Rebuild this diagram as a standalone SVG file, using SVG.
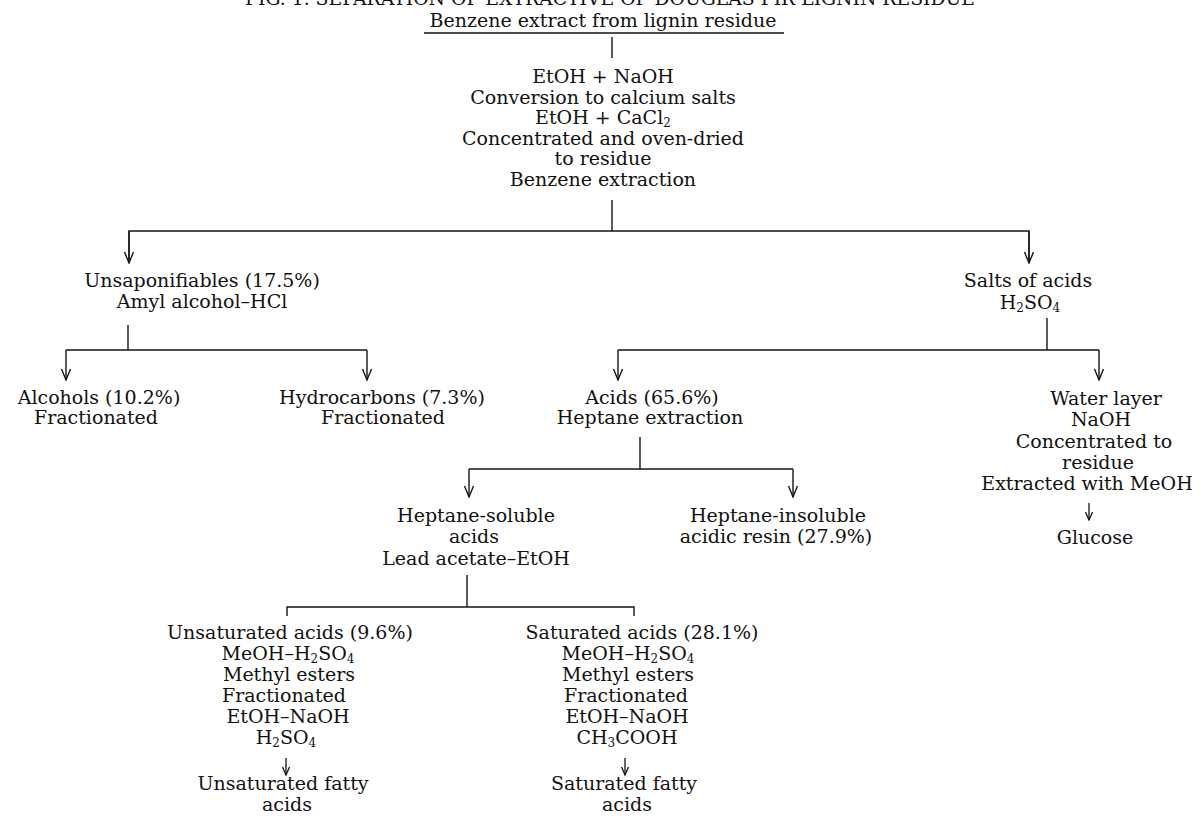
<svg xmlns="http://www.w3.org/2000/svg" width="1199" height="818" viewBox="0 0 1199 818">
<defs>
<style>
text{font-family:"DejaVu Serif","Liberation Serif",serif;font-size:19px;fill:#111;text-anchor:middle}
.ln{stroke:#151515;stroke-width:1.4;fill:none}
.ar{stroke:#151515;stroke-width:1.4;fill:none;marker-end:url(#v)}
.sa{stroke:#151515;stroke-width:1.3;fill:none;marker-end:url(#vs)}
.sub{font-size:12px}
</style>
<marker id="v" viewBox="-12 -6 13 12" refX="0" refY="0" markerWidth="13" markerHeight="12" markerUnits="userSpaceOnUse" orient="auto">
<path d="M-11,-4.5 L0,0 L-11,4.5" fill="none" stroke="#151515" stroke-width="1.4"/>
</marker>
<marker id="vs" viewBox="-9 -5 10 10" refX="0" refY="0" markerWidth="10" markerHeight="10" markerUnits="userSpaceOnUse" orient="auto">
<path d="M-8,-3.5 L0,0 L-8,3.5" fill="none" stroke="#151515" stroke-width="1.3"/>
</marker>
</defs>
<rect width="1199" height="818" fill="#fff"/>

<g id="title">
<text x="610" y="5" font-size="16" textLength="730" lengthAdjust="spacingAndGlyphs">FIG. 1. SEPARATION OF EXTRACTIVE OF DOUGLAS FIR LIGNIN RESIDUE</text>
</g>

<g id="n-start">
<text x="603" y="27">Benzene extract from lignin residue</text>
<line class="ln" x1="424" y1="33" x2="784" y2="33"/>
</g>

<g id="n-process">
<text x="603" y="83">EtOH + NaOH</text>
<text x="603" y="104">Conversion to calcium salts</text>
<text x="603" y="124">EtOH + CaCl<tspan class="sub" dy="3">2</tspan></text>
<text x="603" y="145">Concentrated and oven-dried</text>
<text x="603" y="165">to residue</text>
<text x="603" y="186">Benzene extraction</text>
</g>

<g id="n-unsap">
<text x="202" y="287">Unsaponifiables (17.5%)</text>
<text x="202" y="308">Amyl alcohol–HCl</text>
</g>

<g id="n-salts">
<text x="1028" y="287">Salts of acids</text>
<text x="1030" y="309">H<tspan class="sub" dy="3">2</tspan><tspan dy="-3">SO</tspan><tspan class="sub" dy="3">4</tspan></text>
</g>

<g id="n-alcohols">
<text x="99" y="404">Alcohols (10.2%)</text>
<text x="96" y="424">Fractionated</text>
</g>

<g id="n-hydrocarbons">
<text x="382" y="404">Hydrocarbons (7.3%)</text>
<text x="383" y="424">Fractionated</text>
</g>

<g id="n-acids">
<text x="652" y="404">Acids (65.6%)</text>
<text x="650" y="424">Heptane extraction</text>
</g>

<g id="n-water">
<text x="1106" y="405">Water layer</text>
<text x="1101" y="426">NaOH</text>
<text x="1094" y="448">Concentrated to</text>
<text x="1098" y="469">residue</text>
<text x="1087" y="490">Extracted with MeOH</text>
</g>

<g id="n-glucose">
<text x="1095" y="544">Glucose</text>
</g>

<g id="n-hsol">
<text x="476" y="522">Heptane-soluble</text>
<text x="474" y="543">acids</text>
<text x="476" y="565">Lead acetate–EtOH</text>
</g>

<g id="n-hinsol">
<text x="778" y="522">Heptane-insoluble</text>
<text x="776" y="543">acidic resin (27.9%)</text>
</g>

<g id="n-unsat">
<text x="290" y="639">Unsaturated acids (9.6%)</text>
<text x="288" y="660">MeOH–H<tspan class="sub" dy="3">2</tspan><tspan dy="-3">SO</tspan><tspan class="sub" dy="3">4</tspan></text>
<text x="289" y="681">Methyl esters</text>
<text x="284" y="702">Fractionated</text>
<text x="288" y="723">EtOH–NaOH</text>
<text x="286" y="744">H<tspan class="sub" dy="3">2</tspan><tspan dy="-3">SO</tspan><tspan class="sub" dy="3">4</tspan></text>
</g>

<g id="n-unsatfatty">
<text x="283" y="790">Unsaturated fatty</text>
<text x="287" y="811">acids</text>
</g>

<g id="n-sat">
<text x="642" y="639">Saturated acids (28.1%)</text>
<text x="628" y="660">MeOH–H<tspan class="sub" dy="3">2</tspan><tspan dy="-3">SO</tspan><tspan class="sub" dy="3">4</tspan></text>
<text x="628" y="681">Methyl esters</text>
<text x="626" y="702">Fractionated</text>
<text x="627" y="723">EtOH–NaOH</text>
<text x="627" y="744">CH<tspan class="sub" dy="3">3</tspan><tspan dy="-3">COOH</tspan></text>
</g>

<g id="n-satfatty">
<text x="624" y="790">Saturated fatty</text>
<text x="627" y="811">acids</text>
</g>

<g id="connectors">
<line class="ln" x1="612" y1="37" x2="612" y2="58"/>
<line class="ln" x1="612" y1="200" x2="612" y2="231"/>
<polyline class="ln" points="129,263 129,231 1029,231 1029,263"/>
<line class="ar" x1="129" y1="231" x2="129" y2="263"/>
<line class="ar" x1="1029" y1="231" x2="1029" y2="263"/>

<line class="ln" x1="128" y1="325" x2="128" y2="350"/>
<line class="ln" x1="66" y1="350" x2="367" y2="350"/>
<line class="ar" x1="66" y1="350" x2="66" y2="380"/>
<line class="ar" x1="367" y1="350" x2="367" y2="380"/>

<line class="ln" x1="1047" y1="318" x2="1047" y2="350"/>
<line class="ln" x1="618" y1="350" x2="1099" y2="350"/>
<line class="ar" x1="618" y1="350" x2="618" y2="380"/>
<line class="ar" x1="1099" y1="350" x2="1099" y2="380"/>

<line class="sa" x1="1089" y1="503" x2="1089" y2="520"/>

<line class="ln" x1="640" y1="437" x2="640" y2="469"/>
<line class="ln" x1="469" y1="469" x2="793" y2="469"/>
<line class="ar" x1="469" y1="469" x2="469" y2="497"/>
<line class="ar" x1="793" y1="469" x2="793" y2="497"/>

<line class="ln" x1="467" y1="575" x2="467" y2="607"/>
<polyline class="ln" points="287,616 287,607 634,607 634,616"/>

<line class="sa" x1="286" y1="758" x2="286" y2="775"/>
<line class="sa" x1="625" y1="758" x2="625" y2="775"/>
</g>
</svg>
